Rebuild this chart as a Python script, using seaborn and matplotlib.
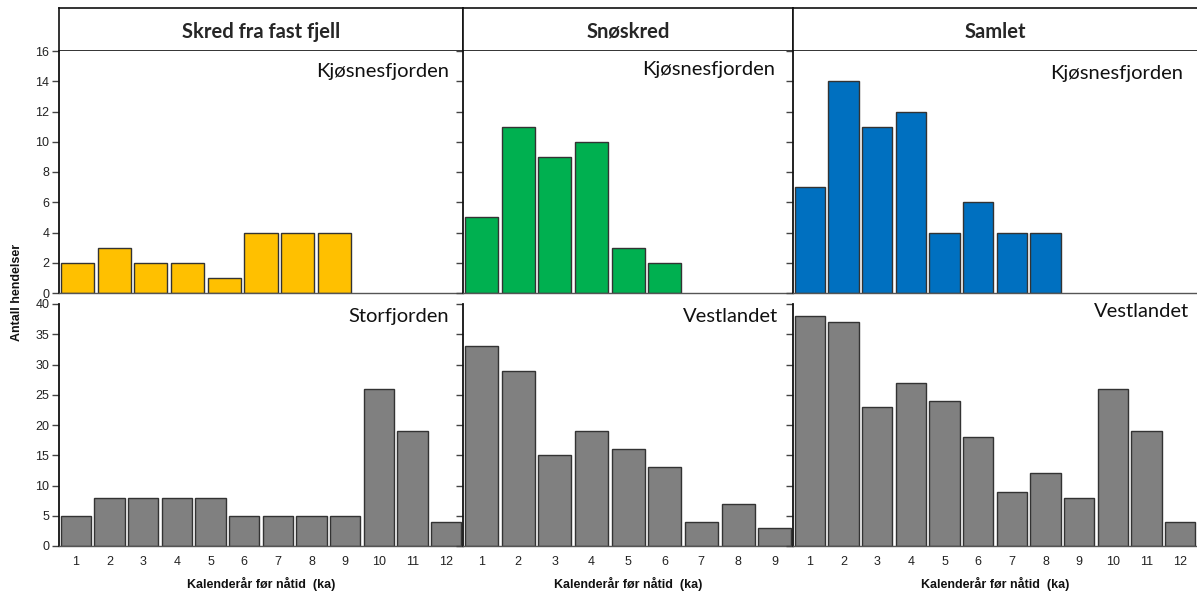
import numpy as np
import pandas as pd
import matplotlib
matplotlib.use("Agg")
import matplotlib.pyplot as plt
import seaborn as sns

# ==============================
# Antall hendelser per tusenår (ka)
# ==============================

# øverste rad: Kjøsnesfjorden
fjell_kjosnes = [2, 3, 2, 2, 1, 4, 4, 4, 0, 0, 0]
sno_kjosnes = [5, 11, 9, 10, 3, 2, 0, 0, 0]
samlet_kjosnes = [7, 14, 11, 12, 4, 6, 4, 4, 0, 0, 0, 0]

# nederste rad: Storfjorden / Vestlandet
fjell_storfjorden = [5, 8, 8, 8, 8, 5, 5, 5, 5, 26, 19, 4]
sno_vestlandet = [33, 29, 15, 19, 16, 13, 4, 7, 3]
samlet_vestlandet = [38, 37, 23, 27, 24, 18, 9, 12, 8, 26, 19, 4]

kolonner = ["Skred fra fast fjell", "Snøskred", "Samlet"]
topp_steder = ["Kjøsnesfjorden", "Kjøsnesfjorden", "Kjøsnesfjorden"]
bunn_steder = ["Storfjorden", "Vestlandet", "Vestlandet"]
topp_data = [fjell_kjosnes, sno_kjosnes, samlet_kjosnes]
bunn_data = [fjell_storfjorden, sno_vestlandet, samlet_vestlandet]
farger = ["#FFC000", "#00B050", "#0070C0"]
gra = "#808080"

sns.set_theme(style="white")
plt.rcParams["font.family"] = ["Liberation Sans", "DejaVu Sans"]

W, H = 1197, 592
fig = plt.figure(figsize=(W / 100, H / 100), dpi=100)


def boks(x0, y0, x1, y1):
    # pikselkoordinater -> figurbrøk
    return [x0 / W, 1 - y1 / H, (x1 - x0) / W, (y1 - y0) / H]


def tegn_panel(ax, verdier, farge, ymax, steg, vis_y, vis_x):
    n = len(verdier)
    df = pd.DataFrame({"ka": np.arange(1, n + 1), "antall": verdier})
    df = df[df["antall"] > 0]
    sns.barplot(data=df, x="ka", y="antall", order=list(range(1, n + 1)),
                color=farge, saturation=1, width=0.9,
                edgecolor="#333333", linewidth=1.0, ax=ax)
    ax.set_xlim(-0.5, n - 0.5)
    ax.set_ylim(0, ymax)
    ax.set_yticks(np.arange(0, ymax + 1, steg))
    ax.set_xticks(range(n))
    ax.set_xticks(np.arange(n + 1) - 0.5, minor=True)
    ax.set_xlabel("")
    ax.set_ylabel("")
    if vis_x:
        ax.set_xticklabels([str(i) for i in range(1, n + 1)])
    else:
        ax.set_xticklabels([])
    if not vis_y:
        ax.set_yticklabels([])
    ax.tick_params(axis="x", which="major", length=0, pad=7, labelsize=9, labelcolor="#222222")
    ax.tick_params(axis="x", which="minor", length=5, width=1, color="#333333", direction="out")
    ax.tick_params(axis="y", length=5, width=1, color="#444444", direction="out", pad=2,
                   labelsize=9, labelcolor="#222222", left=True)
    ax.grid(False)
    for side in ["top", "right"]:
        ax.spines[side].set_visible(False)
    ax.spines["left"].set_color("#111111")
    ax.spines["left"].set_linewidth(1.3)
    ax.spines["bottom"].set_color("#555555")
    ax.spines["bottom"].set_linewidth(1.0)


kol_x = [(59, 463), (463, 793), (793, 1197)]
tekst_hoyre = [(449, 63, 449, 308), (775, 61, 778, 308), (1183, 65, 1189, 303)]

for i, (x0, x1) in enumerate(kol_x):
    # overskriftsboks
    ax_h = fig.add_axes(boks(x0, 8, x1, 51))
    ax_h.set_xticks([])
    ax_h.set_yticks([])
    for side in ax_h.spines:
        ax_h.spines[side].set_color("#111111")
        ax_h.spines[side].set_linewidth(1.2)
    if i == 2:
        ax_h.spines["right"].set_visible(False)
    ax_h.text(0.5, 0.45, kolonner[i], ha="center", va="center", fontsize=14.5,
              fontweight="bold", family=["Lato", "DejaVu Sans"], transform=ax_h.transAxes)

    ax_t = fig.add_axes(boks(x0, 51, x1, 293))
    tegn_panel(ax_t, topp_data[i], farger[i], 16, 2, i == 0, False)

    ax_b = fig.add_axes(boks(x0, 304, x1, 546))
    tegn_panel(ax_b, bunn_data[i], gra, 40, 5, i == 0, True)
    ax_b.set_xlabel("Kalenderår før nåtid  (ka)", fontsize=9, fontweight="bold",
                    labelpad=7, color="#111111")

    tx, ty, bx, by = tekst_hoyre[i]
    fig.text(tx / W, 1 - ty / H, topp_steder[i], ha="right", va="top", fontsize=14.5,
             family=["Lato", "DejaVu Sans"], color="#111111")
    fig.text(bx / W, 1 - by / H, bunn_steder[i], ha="right", va="top", fontsize=14.5,
             family=["Lato", "DejaVu Sans"], color="#111111")

fig.text(17 / W, 1 - 292 / H, "Antall hendelser", rotation=90, ha="center", va="center",
         fontsize=9, fontweight="bold", color="#111111")

fig.savefig("out.png", dpi=100, facecolor="white")
